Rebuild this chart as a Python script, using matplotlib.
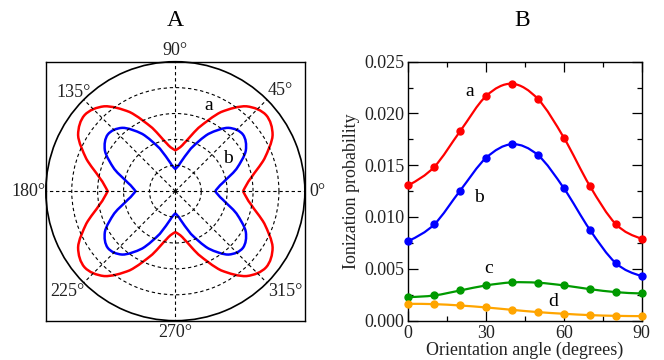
import numpy as np
import matplotlib
matplotlib.use("Agg")
import matplotlib.pyplot as plt
from matplotlib.ticker import MultipleLocator, FormatStrFormatter
from matplotlib.path import Path
from matplotlib.patches import PathPatch

plt.rcParams['font.family'] = ['Liberation Serif', 'DejaVu Serif']

angles = [0, 10, 20, 30, 40, 50, 60, 70, 80, 90]
series_a = [0.01306, 0.01484, 0.01829, 0.02168, 0.02287, 0.02139, 0.01765, 0.01300, 0.00932, 0.00790]
series_b = [0.00768, 0.00929, 0.01255, 0.01571, 0.01703, 0.01597, 0.01277, 0.00877, 0.00555, 0.00429]
series_c = [0.00226, 0.00242, 0.00290, 0.00339, 0.00368, 0.00365, 0.00339, 0.00303, 0.00274, 0.00261]
series_d = [0.00161, 0.00158, 0.00145, 0.00126, 0.00103, 0.00081, 0.00065, 0.00052, 0.00045, 0.00042]
xticks_b = [0, 30, 60, 90]
yticks_b = [0.000, 0.005, 0.010, 0.015, 0.020, 0.025]
theta_labels = ['0°', '45°', '90°', '135°', '180°', '225°', '270°', '315°']
theta_label_angles = [0, 45, 90, 135, 180, 225, 270, 315]
rgrid = [0.005, 0.010, 0.015, 0.020]

RED = '#ff0000'
BLUE = '#0000ff'
GREEN = '#009a00'
ORANGE = '#ffa500'

fig = plt.figure(figsize=(6.64, 3.6), dpi=100)


def smooth_segments(xs, ys):
    """Cubic Bezier control points (Catmull-Rom style) through the given points."""
    P = np.column_stack([np.asarray(xs, float), np.asarray(ys, float)])
    n = len(P)
    T = np.zeros_like(P)
    T[1:-1] = (P[2:] - P[:-2]) / 2.0
    T[0] = (3 * (P[1] - P[0]) - T[1]) / 2.0
    T[-1] = (3 * (P[-1] - P[-2]) - T[-2]) / 2.0
    verts = [P[0]]
    codes = [Path.MOVETO]
    for i in range(n - 1):
        verts += [P[i] + T[i] / 3.0, P[i + 1] - T[i + 1] / 3.0, P[i + 1]]
        codes += [Path.CURVE4] * 3
    return np.array(verts), codes


def smooth_path(xs, ys):
    v, c = smooth_segments(xs, ys)
    return Path(v, c)


def polar_closed_path(vals):
    ang = np.deg2rad(np.array(angles, float))
    v, c = smooth_segments(ang, vals)
    quads = [v,
             np.column_stack([np.pi - v[::-1, 0], v[::-1, 1]]),
             np.column_stack([np.pi + v[:, 0], v[:, 1]]),
             np.column_stack([2 * np.pi - v[::-1, 0], v[::-1, 1]])]
    verts = [quads[0]]
    codes = list(c)
    for q in quads[1:]:
        verts.append(q[1:])
        codes += [Path.CURVE4] * (len(q) - 1)
    return Path(np.vstack(verts), codes)

# ---------- Panel A (polar) ----------
rect = [45.7 / 664, 1 - 320.7 / 360, 259.3 / 664, 259.0 / 360]
box = fig.add_axes(rect)
box.set_xticks([]); box.set_yticks([])
for s in box.spines.values():
    s.set_linewidth(1.0)
    s.set_color('black')

axp = fig.add_axes(rect, projection='polar')
axp.set_facecolor('none')
axp.set_ylim(0, 0.025)
axp.set_yticks(rgrid)
axp.set_yticklabels([])
axp.set_xticks(np.deg2rad(theta_label_angles))
axp.set_xticklabels([])
axp.grid(True, color='black', linestyle=(0, (3, 2.5)), linewidth=0.8)
axp.spines['polar'].set_linewidth(1.2)

for vals, col in [(series_a, RED), (series_b, BLUE)]:
    axp.add_patch(PathPatch(polar_closed_path(vals), facecolor='none', edgecolor=col,
                            linewidth=1.8, transform=axp.transData))

# label placement (angle in degrees, radius in data units)
label_pos = {0: (0, 0.0274), 45: (43.7, 0.0280), 90: (90, 0.0272), 135: (136, 0.0274),
             180: (180, 0.0284), 225: (223, 0.0284), 270: (270, 0.0273), 315: (317.6, 0.0287)}
for a, lab in zip(theta_label_angles, theta_labels):
    ang, rr = label_pos[a]
    axp.text(np.deg2rad(ang), rr, lab, ha='center', va='center', fontsize=13,
             color='#222222')

axp.text(np.deg2rad(69), 0.0177, 'a', ha='center', va='center', fontsize=14)
axp.text(np.deg2rad(32), 0.0120, 'b', ha='center', va='center', fontsize=14)
fig.text(175 / 664, 1 - 20 / 360, 'A', ha='center', va='center', fontsize=17)

# ---------- Panel B ----------
axb = fig.add_axes([408.3 / 664, 1 - 320.5 / 360, 233.4 / 664, 258.8 / 360])
for vals, col in [(series_a, RED), (series_b, BLUE), (series_c, GREEN), (series_d, ORANGE)]:
    axb.add_patch(PathPatch(smooth_path(angles, vals), facecolor='none', edgecolor=col,
                            linewidth=1.6, zorder=3))
    axb.plot(angles, vals, linestyle='none', color=col, marker='o', markersize=5,
             clip_on=False, zorder=4)
axb.set_xlim(0, 90)
axb.set_ylim(0, 0.025)
axb.set_xticks(xticks_b)
axb.set_yticks(yticks_b)
axb.yaxis.set_major_formatter(FormatStrFormatter('%.3f'))
axb.xaxis.set_minor_locator(MultipleLocator(15))
axb.yaxis.set_minor_locator(MultipleLocator(0.0025))
axb.tick_params(which='both', direction='in', top=True, right=True, labelsize=13,
                colors='black', labelcolor='#222222')
axb.tick_params(which='major', length=7, width=0.9, pad=3)
axb.tick_params(which='minor', length=3.5, width=0.9)
for s in axb.spines.values():
    s.set_linewidth(1.0)
axb.set_xlabel('Orientation angle (degrees)', fontsize=13, labelpad=0, color='#222222')
axb.set_ylabel('Ionization probability', fontsize=13, labelpad=3, color='#222222')

axb.text(23.8, 0.0221, 'a', ha='center', va='center', fontsize=14)
axb.text(27.3, 0.0119, 'b', ha='center', va='center', fontsize=14)
axb.text(31.1, 0.0050, 'c', ha='center', va='center', fontsize=14)
axb.text(55.8, 0.0018, 'd', ha='center', va='center', fontsize=14)
fig.text(522 / 664, 1 - 20 / 360, 'B', ha='center', va='center', fontsize=17)

fig.savefig('out.png', dpi=100)
